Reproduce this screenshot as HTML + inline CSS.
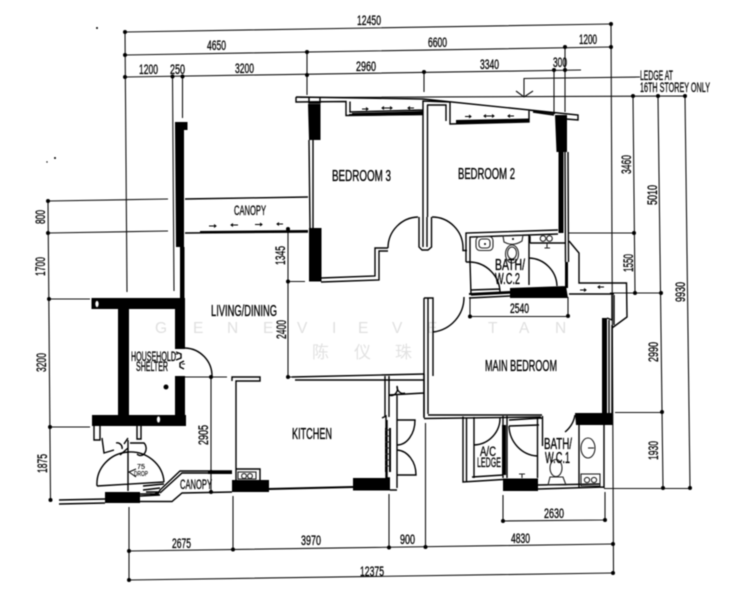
<!DOCTYPE html>
<html><head><meta charset="utf-8"><style>
html,body{margin:0;padding:0;background:#fff;width:745px;height:600px;overflow:hidden}
svg{display:block;filter:blur(.4px)}
text{font-family:"Liberation Sans",sans-serif;fill:#000;font-size:13.500px;stroke:#000;stroke-width:.3}
.s{font-size:15.500px;stroke-width:.35}.m{font-size:14px}.t{font-size:7px;stroke-width:.1}
text.w{font-family:"Liberation Sans",sans-serif;fill:#e0e0e0;font-size:15.500px;stroke:none}
text.c{font-family:"Liberation Sans","Noto Sans CJK SC",sans-serif;fill:#e2e2e2;font-size:17px;stroke:none}
.d{stroke:#111;stroke-width:1.100;fill:none}
.l{stroke:#000;stroke-width:1.400;fill:none}
.h{stroke:#000;stroke-width:2;fill:none}
.b{fill:#000;stroke:none}
circle.k{fill:#000}
</style></head><body>
<svg width="745" height="600" viewBox="0 0 745 600" xmlns="http://www.w3.org/2000/svg">
<rect width="745" height="600" fill="#fff"/>
<!-- watermark -->
<text class="w" x="155" y="333">G</text><text class="w" x="193" y="333">E</text><text class="w" x="227" y="333">N</text><text class="w" x="263" y="333">E</text><text class="w" x="297" y="333">V</text><text class="w" x="332" y="333">I</text><text class="w" x="358" y="333">E</text><text class="w" x="392" y="333">V</text><text class="w" x="427" y="333">E</text><text class="w" x="488" y="333">T</text><text class="w" x="519" y="333">A</text><text class="w" x="555" y="333">N</text>
<text class="c" x="312" y="358">陈</text><text class="c" x="354" y="358">仪</text><text class="c" x="395" y="358">珠</text>

<!-- dimension lines -->
<g class="d">
<path d="M125 32L611 24M125 55L611 47M125 77L581 70"/>
<path d="M125 32L127 292M172.500 77L174 291M182.500 77V118M307 52V95M424 72V92M554 70V113M565 47V112M611 24L613.500 573"/>
<path d="M300 97.500L685 96M633 96L635 293M658 96L663 488M685 96L690 488M568 233H634M610 293H662M615 412.500H662M604 488.500H690"/>
<path d="M640 77L524 78.500V97M516 91L524 97L533 91"/>
<path d="M48 201L50.500 500M48 201L168 199M48 233L168 231M48 299H90M50 427H90"/>
<path d="M129 551L613 544M129 580L613 573M129 507V580M233 496V551M389 494V548M425.500 423V547"/>
<path d="M503 521L605 520M503 495V521M605 492V520"/>
<path d="M470 316.500H568M470 297V316M568 297V316"/>
<path d="M288 229V377M288 281.500H305M288 377H292M211 377V492M185 377H227"/>
</g>
<g>
<circle class="k" cx="125" cy="32" r="2"/><circle class="k" cx="125" cy="55" r="2"/><circle class="k" cx="125" cy="77" r="2"/><circle class="k" cx="172.500" cy="76.500" r="2"/><circle class="k" cx="182.500" cy="76.500" r="2"/><circle class="k" cx="307" cy="52" r="2"/><circle class="k" cx="307" cy="75" r="2"/><circle class="k" cx="424" cy="72" r="2"/><circle class="k" cx="554" cy="70" r="2"/><circle class="k" cx="565" cy="70" r="2"/><circle class="k" cx="565" cy="47" r="2"/><circle class="k" cx="611" cy="47" r="2"/><circle class="k" cx="611" cy="24" r="2"/>
<circle class="k" cx="633" cy="96" r="2"/><circle class="k" cx="658" cy="96" r="2"/><circle class="k" cx="685" cy="96" r="2"/><circle class="k" cx="634" cy="233" r="2"/><circle class="k" cx="635" cy="293" r="2"/><circle class="k" cx="661" cy="293" r="2"/><circle class="k" cx="662" cy="412" r="2"/><circle class="k" cx="663" cy="488" r="2"/><circle class="k" cx="690" cy="488" r="2"/>
<circle class="k" cx="48" cy="201" r="2"/><circle class="k" cx="48" cy="233" r="2"/><circle class="k" cx="49" cy="299" r="2"/><circle class="k" cx="50" cy="427" r="2"/><circle class="k" cx="50.500" cy="500" r="2"/>
<circle class="k" cx="129" cy="551" r="2"/><circle class="k" cx="233" cy="549.500" r="2"/><circle class="k" cx="389" cy="547.500" r="2"/><circle class="k" cx="425.500" cy="547" r="2"/><circle class="k" cx="613" cy="544" r="2"/><circle class="k" cx="129" cy="580" r="2"/><circle class="k" cx="613" cy="573" r="2"/>
<circle class="k" cx="503" cy="521" r="2"/><circle class="k" cx="605" cy="520" r="2"/><circle class="k" cx="470" cy="316.500" r="2"/><circle class="k" cx="568" cy="316" r="2"/>
<circle class="k" cx="288" cy="229" r="2"/><circle class="k" cx="288" cy="281.500" r="2"/><circle class="k" cx="288" cy="377" r="2"/><circle class="k" cx="211" cy="377" r="2"/><circle class="k" cx="211" cy="472" r="2"/><circle class="k" cx="211" cy="492" r="2"/>
<circle class="k" cx="166" cy="387" r="2.500"/>
</g>

<!-- solid walls -->
<g class="b">
<path d="M175 122H187.500V130H184V247H184.500V300H180V247H176Z"/>
<path d="M91.500 298H185V309H91.500Z"/>
<path d="M118 309H129V415H118Z"/>
<path d="M175 309H185V349H175ZM175 376H185V415H175Z"/>
<path d="M92 415H186V426H92Z"/>
<path d="M232 480H269V492H232ZM353 478H390V490.500H353ZM105 492H140V503H105Z"/>
<path d="M308 104H320.500V140H309ZM309 228H321.500V281.500H309Z"/>
<path d="M555 115H567V152H556.500ZM558.500 152H563.500V233H558.500Z"/>
<path d="M510 288L566 286L568 298H510ZM565 262H568V288H565Z"/>
<path d="M602 318H607V413H602ZM575 413H612.500V425H576Z"/>
<path d="M503 478.500H538V491H503Z"/>
<path d="M352 113L423 111V115L352 116ZM456 120L529 118.500V122L456 124Z"/>
<path d="M208 471H232V474H208Z"/>
</g>
<g fill="#fff" stroke="#111" stroke-width=".8"><ellipse cx="97" cy="304" rx="2" ry="3.500"/><ellipse cx="158.500" cy="419.500" rx="2" ry="3.500"/></g>

<!-- outlines -->
<g class="l">
<path d="M296 97L423 99L578 115V120L566 119M296 97V102L346 101.500V115.500L423 114.500M350 101.500V112L423 110M423 114V101L450 102V124L529 122V110L555 113.500M427 105H446V121M533 112L554 115"/>
<path d="M309 140L310 228M313 140V228"/>
<path d="M423 114V217M427.500 105V217M419 217V247L422 250H428L431.500 247V217M423 217V247M427 217V247"/>
<path d="M321 278L375 276V248H388M321 282L379 280V251H388"/>
<path d="M388 248A31 31 0 0 1 418 217M432 217A31 31 0 0 1 463 248M463 248V250.500H467"/>
<path d="M466 262V233L558 230M470 262V237L558 234M470 262L471 295M466 262H470"/>
<path d="M469 262A31 31 0 0 1 500 293M471 295L510 293M469 298L510 296M471 290L500 289"/>
<path d="M529 235V285M529 258A29 29 0 0 1 557 286M530 243H565M530 236V243M565 152L565.500 262M568 152L568.500 262"/>
<path d="M569 241L579 253V283H626.500L627 317L612 328M569 294L614 294M612 295L612 320L607 318M614 295V325M609 320V413M612 325V413"/>
<path d="M464 297A35 35 0 0 1 433 332M424 298H433V376M424 298V418M428 298V414M428 415L542 415M424 418.500L541 417"/>
<path d="M463 416.500V482L503 479.500M466.500 481V418M474 417V478M474 445A27 27 0 0 0 500 417M472 477L503 475"/>
<path d="M503 416V478M507 416V478M509 426L539 425M509 420L542 418M537.500 419V478M537 456A30 31 0 0 1 509 426M542.500 416V446"/>
<path d="M575 415A28 28 0 0 1 565 432"/>
<path d="M579 425V487M604 425V488M538 489L604 487M538 485L600 484"/>
<path d="M292 377L424 374M295 380H424M232 381V377H260V381H236V480M236 469H260V480"/>
<path d="M385 376V417M389 376V417M424 374V417M389 395L424 393M397 394V488M390 490H397M382 418L386 416V478H390M387 420V478"/>
<path d="M389 395A6 7 0 0 0 397 386A6 7 0 0 0 405 393"/>
<path d="M397 420H415A18 25 0 0 1 397 445M397 450A20 25 0 0 1 416 475H397"/>
<path d="M59 500L105 499M59 504L105 503"/>
<path d="M140 494H158L160 490L180 471L232 471M160 493L182 473H208M140 501.500H172L182 493L232 492"/>
<path d="M185 199L308 197M185 233L308 232"/>
<path d="M309 97V103H320V97"/>
<path d="M128 440V491M97 486A33.500 32 0 0 1 164 482M97 486L164 482M143 486L164 484M143 490L160 488"/>
<path d="M94 426V440H100V426M96 440H94V437M137 426V439H141V426M102 438L104 453L114 450M116 443A5 5 0 0 1 122 449M124 444L128 438M128 448L120 455M130 443H144A4 5 0 0 1 137 454"/>
<path d="M185 348A28 28 0 0 1 212 376M176 352L181 354V358L176 360M184 361L180 363V367L184 369"/>
<path d="M140 496L160 495L150 494M146 492L158 492L155 494"/>
</g>
<g class="h">
<path d="M200 232L308 231"/>
<path d="M269 489L353 487M349 115L423 113M469 294L510 292"/>
<path d="M503 425V475M505 425V475"/>
<path d="M386 428V472M390 428V472"/>
</g>
<g fill="none" stroke="#222" stroke-width="1.100">
<rect x="476" y="236.500" width="17" height="14" rx="4"/><rect x="479" y="239" width="11" height="9" rx="3"/>
<path d="M503 236L523 235L522 241Q513 247 504 242Z"/><ellipse cx="512" cy="254" rx="6.500" ry="9"/><ellipse cx="512" cy="253" rx="4.500" ry="6"/>
<circle cx="543" cy="238.500" r="2.800"/><circle cx="549.500" cy="238.500" r="2.800"/>
<path d="M547 243V248M544.500 248H550"/>
<ellipse cx="588" cy="448" rx="7" ry="10"/><path d="M588 448H594"/>
<rect x="581" y="474" width="19" height="12"/><circle cx="587" cy="480" r="2.600"/><circle cx="594" cy="480" r="2.600"/>
<ellipse cx="556" cy="468" rx="6" ry="8.500"/><path d="M548 485L550 477H563L566 485Z"/>
<path d="M519 474H525M522 474V478"/>
<rect x="238" y="472" width="18" height="7"/><circle cx="244" cy="476" r="2.400"/><circle cx="250" cy="476" r="2.400"/>
<path d="M385 430H390M385 436H390M385 442H390M385 448H390M385 454H390M385 460H390M385 466H390"/>
<path d="M175 354H178M182 364H185"/>
</g>
<circle class="k" cx="485" cy="244" r="1"/><circle class="k" cx="513" cy="239" r="1"/><circle class="k" cx="97" cy="28" r="1"/><circle class="k" cx="55" cy="158" r="1"/><circle class="k" cx="47" cy="162" r=".7"/>

<!-- sliding door arrows -->
<g stroke="#000" stroke-width="1" fill="none">
<path d="M209 226H216M214 224.500L216 226L214 227.500M231 225H238M233 223.500L231 225L233 226.500M255 224.500H262M260 223L262 224.500L260 226M277 224H283M279 222.500L277 224L279 225.500"/>
<path d="M362 109H368M366 107.500L368 109L366 110.500M382 108H392M384 106.500L382 108L384 109.500M390 106.500L392 108L390 109.500M408 108H414M410 106.500L408 108L410 109.500"/>
<path d="M465 116.500H471M469 115L471 116.500L469 118M484 116H494M486 114.500L484 116L486 117.500M492 114.500L494 116L492 117.500M508 116H514M510 114.500L508 116L510 117.500"/>
<path d="M580 290H586M584 288.500L586 290L584 291.500M598 287H604M600 285.500L598 287L600 288.500"/>
<path d="M136 477L129 472L136 469"/>
</g>

<!-- dimension labels -->
<text x="357" y="25" textLength="24" lengthAdjust="spacingAndGlyphs">12450</text>
<text x="207" y="50" textLength="19" lengthAdjust="spacingAndGlyphs">4650</text>
<text x="428" y="47" textLength="19" lengthAdjust="spacingAndGlyphs">6600</text>
<text x="579" y="44" textLength="18" lengthAdjust="spacingAndGlyphs">1200</text>
<text x="139" y="74" textLength="19" lengthAdjust="spacingAndGlyphs">1200</text>
<text x="170" y="74" textLength="15" lengthAdjust="spacingAndGlyphs">250</text>
<text x="235" y="73" textLength="19" lengthAdjust="spacingAndGlyphs">3200</text>
<text x="356" y="71" textLength="20" lengthAdjust="spacingAndGlyphs">2960</text>
<text x="480" y="69" textLength="19" lengthAdjust="spacingAndGlyphs">3340</text>
<text x="553" y="67" textLength="14" lengthAdjust="spacingAndGlyphs">300</text>
<text x="640" y="80" textLength="33" lengthAdjust="spacingAndGlyphs">LEDGE AT</text>
<text x="640" y="92" textLength="70" lengthAdjust="spacingAndGlyphs">16TH STOREY ONLY</text>
<text x="172" y="548" textLength="19" lengthAdjust="spacingAndGlyphs">2675</text>
<text x="301" y="545" textLength="20" lengthAdjust="spacingAndGlyphs">3970</text>
<text x="400" y="544" textLength="15" lengthAdjust="spacingAndGlyphs">900</text>
<text x="511" y="543" textLength="19" lengthAdjust="spacingAndGlyphs">4830</text>
<text x="360" y="576" textLength="24" lengthAdjust="spacingAndGlyphs">12375</text>
<text x="544" y="518" textLength="20" lengthAdjust="spacingAndGlyphs">2630</text>
<text x="510" y="313" textLength="19" lengthAdjust="spacingAndGlyphs">2540</text>

<text transform="translate(285,265) rotate(-90)" textLength="19" lengthAdjust="spacingAndGlyphs">1345</text>
<text transform="translate(45,224) rotate(-90)" textLength="14" lengthAdjust="spacingAndGlyphs">800</text>
<text transform="translate(45,276) rotate(-90)" textLength="19" lengthAdjust="spacingAndGlyphs">1700</text>
<text transform="translate(46,372) rotate(-90)" textLength="19" lengthAdjust="spacingAndGlyphs">3200</text>
<text transform="translate(47,473) rotate(-90)" textLength="19" lengthAdjust="spacingAndGlyphs">1875</text>
<text transform="translate(286,339) rotate(-90)" textLength="19" lengthAdjust="spacingAndGlyphs">2400</text>
<text transform="translate(208,445) rotate(-90)" textLength="20" lengthAdjust="spacingAndGlyphs">2905</text>
<text transform="translate(631,174) rotate(-90)" textLength="19" lengthAdjust="spacingAndGlyphs">3460</text>
<text transform="translate(657,205) rotate(-90)" textLength="20" lengthAdjust="spacingAndGlyphs">5010</text>
<text transform="translate(633,272) rotate(-90)" textLength="18" lengthAdjust="spacingAndGlyphs">1550</text>
<text transform="translate(685,302) rotate(-90)" textLength="20" lengthAdjust="spacingAndGlyphs">9930</text>
<text transform="translate(658,362) rotate(-90)" textLength="20" lengthAdjust="spacingAndGlyphs">2990</text>
<text transform="translate(658,460) rotate(-90)" textLength="19" lengthAdjust="spacingAndGlyphs">1930</text>

<!-- room labels -->
<text class="m" x="234" y="215" textLength="32" lengthAdjust="spacingAndGlyphs">CANOPY</text>
<text class="s" x="332" y="181" textLength="59" lengthAdjust="spacingAndGlyphs">BEDROOM 3</text>
<text class="s" x="458" y="179" textLength="57" lengthAdjust="spacingAndGlyphs">BEDROOM 2</text>
<text class="s" x="211" y="316" textLength="66" lengthAdjust="spacingAndGlyphs">LIVING/DINING</text>
<text x="131" y="361" textLength="45" lengthAdjust="spacingAndGlyphs">HOUSEHOLD</text>
<text x="136" y="371" textLength="32" lengthAdjust="spacingAndGlyphs">SHELTER</text>
<text class="s" x="292" y="439" textLength="40" lengthAdjust="spacingAndGlyphs">KITCHEN</text>
<text class="m" x="180" y="489" textLength="32" lengthAdjust="spacingAndGlyphs">CANOPY</text>
<text class="t" x="137" y="469" textLength="8" lengthAdjust="spacingAndGlyphs">75</text>
<text class="t" x="134" y="476" textLength="14" lengthAdjust="spacingAndGlyphs">DROP</text>
<text class="s" x="485" y="371" textLength="72" lengthAdjust="spacingAndGlyphs">MAIN BEDROOM</text>
<text class="s" x="495" y="270" textLength="30" lengthAdjust="spacingAndGlyphs">BATH/</text>
<text class="s" x="495" y="284" textLength="25" lengthAdjust="spacingAndGlyphs">W.C.2</text>
<text x="480" y="456" textLength="16" lengthAdjust="spacingAndGlyphs">A/C</text>
<text x="477" y="467" textLength="24" lengthAdjust="spacingAndGlyphs">LEDGE</text>
<text class="s" x="544" y="449" textLength="28" lengthAdjust="spacingAndGlyphs">BATH/</text>
<text class="s" x="545" y="463" textLength="25" lengthAdjust="spacingAndGlyphs">W.C.1</text>
</svg>
</body></html>
